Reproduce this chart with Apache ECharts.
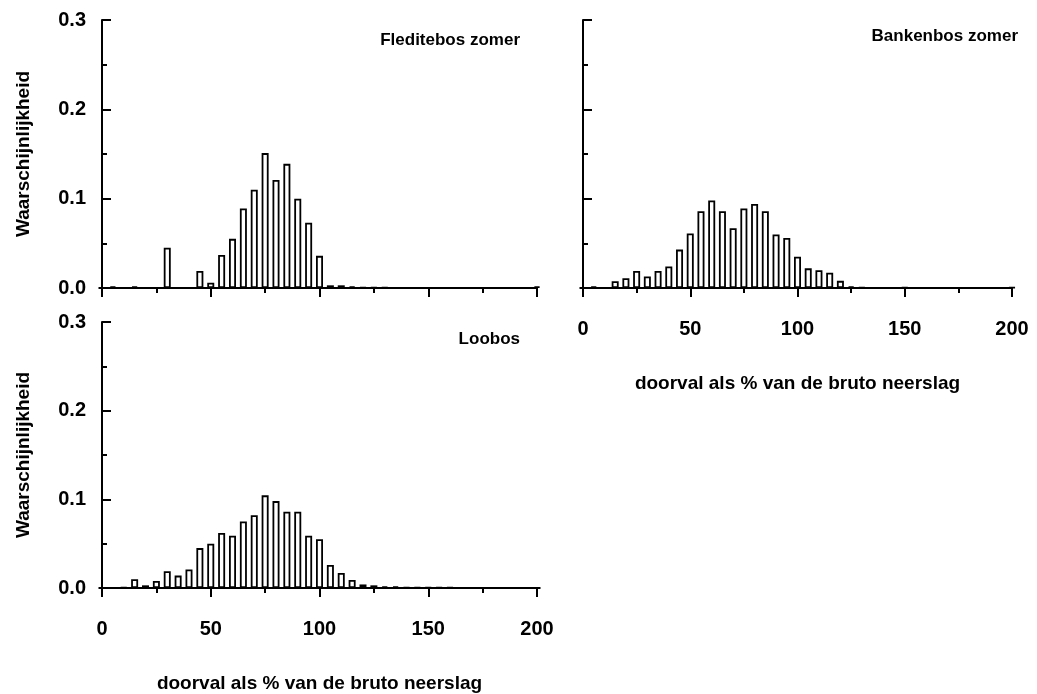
<!DOCTYPE html>
<html>
<head>
<meta charset="utf-8">
<style>
  html, body { margin: 0; padding: 0; background: #fff; }
  #chart { width: 1037px; height: 694px; }
</style>
<script src="https://cdn.jsdelivr.net/npm/echarts@6/dist/echarts.min.js"></script>
</head>
<body>
<div id="chart"></div>
<script>
  // klassen: 0, 5, 10 ... 200 (% van de bruto neerslag)
  var bins = [];
  for (var b = 0; b <= 200; b += 5) bins.push(b);

  var xTicks = [0, 50, 100, 150, 200];
  var yTicks = [0.0, 0.1, 0.2, 0.3];

  // Fleditebos zomer
  var fleditebos = [
    0, 0.002, 0, 0.002, 0, 0, 0.045, 0, 0, 0.019,
    0.006, 0.037, 0.055, 0.089, 0.110, 0.151, 0.121, 0.139, 0.100, 0.073,
    0.036, 0.003, 0.003, 0.002, 0.001, 0.001, 0.001, 0, 0, 0,
    0, 0, 0, 0, 0, 0, 0, 0, 0, 0,
    0.002
  ];

  // Bankenbos zomer
  var bankenbos = [
    0, 0.002, 0, 0.0075, 0.011, 0.019, 0.013, 0.019, 0.024, 0.043,
    0.061, 0.086, 0.098, 0.086, 0.067, 0.089, 0.094, 0.086, 0.060, 0.056,
    0.035, 0.022, 0.020, 0.017, 0.008, 0.002, 0.001, 0, 0, 0,
    0.001, 0, 0, 0, 0, 0, 0, 0, 0, 0,
    0.001
  ];

  // Loobos
  var loobos = [
    0, 0, 0.001, 0.010, 0.003, 0.008, 0.019, 0.014, 0.021, 0.045,
    0.050, 0.062, 0.059, 0.075, 0.082, 0.1045, 0.098, 0.086, 0.086, 0.059,
    0.055, 0.026, 0.017, 0.009, 0.004, 0.003, 0.002, 0.002, 0.001, 0.001,
    0.001, 0.001, 0.001, 0, 0, 0, 0, 0, 0, 0,
    0
  ];

  var font = "'Liberation Sans', Arial, sans-serif";
  var xTitle = "doorval als % van de bruto neerslag";
  var yTitle = "Waarschijnlijkheid";

  function pairs(values) {
    return values.map(function (v, i) { return [bins[i], v]; });
  }

  function xAxis(grid, showLabels) {
    return {
      type: "value",
      gridIndex: grid,
      min: xTicks[0],
      max: xTicks[xTicks.length - 1],
      interval: xTicks[1] - xTicks[0],
      name: showLabels ? xTitle : "",
      nameLocation: "middle",
      nameGap: 86,
      nameTextStyle: { color: "#000", fontFamily: font, fontSize: 19, fontWeight: "bold" },
      axisLine: { onZero: false, lineStyle: { color: "#000", width: 2 } },
      axisTick: { show: true, length: 9, lineStyle: { color: "#000", width: 2 } },
      minorTick: { show: true, splitNumber: 2, length: 5, lineStyle: { color: "#000", width: 2 } },
      axisLabel: {
        show: showLabels,
        margin: 31,
        color: "#000",
        fontFamily: font,
        fontSize: 20,
        fontWeight: "bold",
      },
      splitLine: { show: false },
      minorSplitLine: { show: false },
    };
  }

  function yAxis(grid, showLabels) {
    return {
      type: "value",
      gridIndex: grid,
      min: yTicks[0],
      max: yTicks[yTicks.length - 1],
      interval: yTicks[1] - yTicks[0],
      name: showLabels ? yTitle : "",
      nameLocation: "middle",
      nameGap: 69,
      nameTextStyle: { color: "#000", fontFamily: font, fontSize: 19, fontWeight: "bold" },
      axisLine: { show: true, lineStyle: { color: "#000", width: 2 } },
      axisTick: { show: true, inside: true, length: 9, lineStyle: { color: "#000", width: 2 } },
      minorTick: { show: true, splitNumber: 2, length: 5, lineStyle: { color: "#000", width: 2 } },
      axisLabel: {
        show: showLabels,
        margin: 16,
        color: "#000",
        fontFamily: font,
        fontSize: 20,
        fontWeight: "bold",
        formatter: function (v) { return v.toFixed(1); },
      },
      splitLine: { show: false },
      minorSplitLine: { show: false },
    };
  }

  function barSeries(idx, values) {
    return {
      type: "bar",
      xAxisIndex: idx,
      yAxisIndex: idx,
      data: pairs(values),
      barWidth: 7,
      itemStyle: { color: "#fff", borderColor: "#000", borderWidth: 1.8 },
      animation: false,
    };
  }

  var titleStyle = { color: "#000", fontFamily: font, fontSize: 17, fontWeight: "bold" };

  var chart = echarts.init(document.getElementById("chart"), null, { renderer: "canvas" });
  chart.setOption({
    backgroundColor: "#fff",
    animation: false,
    title: [
      { text: "Fleditebos zomer", right: 512, top: 27, textStyle: titleStyle },
      { text: "Bankenbos zomer", right: 14, top: 23, textStyle: titleStyle },
      { text: "Loobos", right: 512, top: 326, textStyle: titleStyle },
    ],
    grid: [
      { left: 102, top: 20, width: 435, height: 268 },
      { left: 583, top: 20, width: 429, height: 268 },
      { left: 102, top: 322, width: 435, height: 268 },
    ],
    xAxis: [xAxis(0, false), xAxis(1, true), xAxis(2, true)],
    yAxis: [yAxis(0, true), yAxis(1, false), yAxis(2, true)],
    series: [barSeries(0, fleditebos), barSeries(1, bankenbos), barSeries(2, loobos)],
  });
</script>
</body>
</html>
